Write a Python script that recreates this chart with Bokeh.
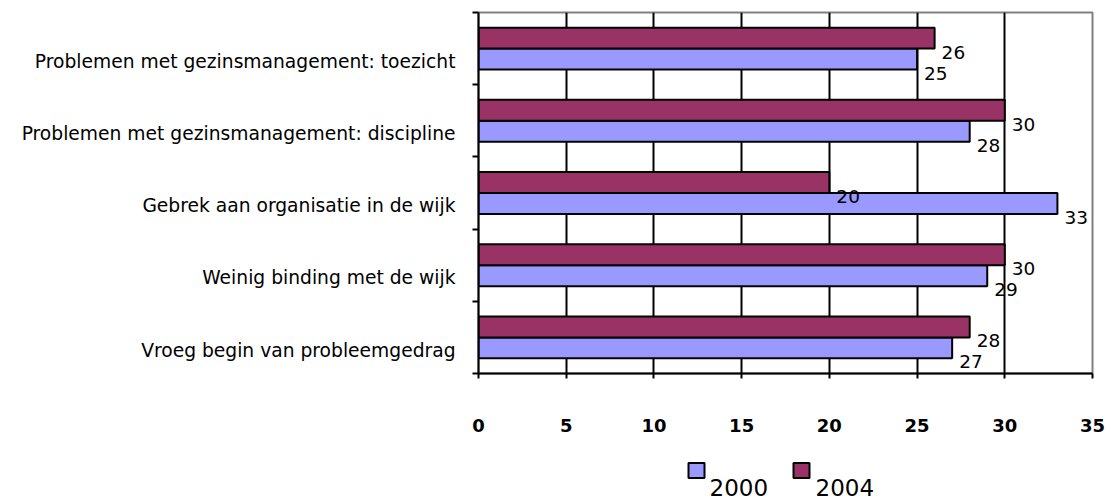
from bokeh.plotting import figure
from bokeh.models import Range1d, FixedTicker
from bokeh.layouts import column
from bokeh.embed import file_html
from bokeh.resources import INLINE
from bokeh.core.properties import value

# ---------------- data ----------------
categories = [
    "Vroeg begin van probleemgedrag",
    "Weinig binding met de wijk",
    "Gebrek aan organisatie in de wijk",
    "Problemen met gezinsmanagement: discipline",
    "Problemen met gezinsmanagement: toezicht",
]
series = ["2000", "2004"]
values_2000 = [27, 29, 33, 28, 25]
values_2004 = [28, 30, 20, 30, 26]
x_ticks = [0, 5, 10, 15, 20, 25, 30, 35]

# ---------------- style ----------------
C2000 = "#9999FF"
C2004 = "#993366"
FONT = "DejaVu Sans"
SHIFT = 0.175        # category label sits below group centre
BAR_H = 0.29
LEFT = 478
RIGHT = 14
W = 1106
TOP = 12
BOTTOM = 70
FRAME_H = 361
MAIN_H = TOP + FRAME_H + BOTTOM
LEG_H = 56

n = len(categories)
centers = [i + SHIFT for i in range(n)]
y2000 = [c - BAR_H / 2 for c in centers]
y2004 = [c + BAR_H / 2 for c in centers]

p = figure(width=W, height=MAIN_H,
           x_range=Range1d(0, 35), y_range=Range1d(SHIFT - 0.5, n - 0.5 + SHIFT),
           output_backend="svg", toolbar_location=None,
           min_border_left=LEFT, min_border_right=RIGHT,
           min_border_top=TOP, min_border_bottom=BOTTOM)
p.background_fill_color = "white"
p.border_fill_color = "white"
p.outline_line_color = "#808080"
p.outline_line_width = 2

# grid
p.ygrid.visible = False
p.xgrid.ticker = FixedTicker(ticks=[t for t in x_ticks if 0 < t < 35])
p.xgrid.grid_line_color = "black"
p.xgrid.grid_line_width = 2

# bars
p.hbar(y=y2000, left=0, right=values_2000, height=BAR_H,
       fill_color=C2000, line_color="black", line_width=2)
p.hbar(y=y2004, left=0, right=values_2004, height=BAR_H,
       fill_color=C2004, line_color="black", line_width=2)

# value labels
lab_kw = dict(x_offset=7, y_offset=14, text_align="left", text_baseline="middle",
              text_font=value(FONT), text_font_size="18.5px", text_color="black")
p.text(x=values_2000, y=y2000, text=[str(v) for v in values_2000], **lab_kw)
p.text(x=values_2004, y=y2004, text=[str(v) for v in values_2004], **lab_kw)

# x axis
xa = p.xaxis[0]
xa.ticker = FixedTicker(ticks=x_ticks)
xa.axis_line_color = "black"
xa.axis_line_width = 2
xa.major_tick_line_color = "black"
xa.major_tick_line_width = 2
xa.major_tick_out = 5
xa.major_tick_in = 0
xa.minor_tick_line_color = None
xa.major_label_standoff = 40
xa.major_label_text_font = FONT
xa.major_label_text_font_size = "18px"
xa.major_label_text_font_style = "bold"
xa.major_label_text_color = "black"

# y axis
ya = p.yaxis[0]
ya.ticker = FixedTicker(ticks=list(range(n)),
                        minor_ticks=[i + SHIFT - 0.5 for i in range(n + 1)])
ya.major_label_overrides = {i: categories[i] for i in range(n)}
ya.axis_line_color = "black"
ya.axis_line_width = 2
ya.major_tick_out = 0
ya.major_tick_in = 0
ya.major_tick_line_color = None
ya.minor_tick_out = 6
ya.minor_tick_in = 0
ya.minor_tick_line_color = "black"
ya.minor_tick_line_width = 2
ya.major_label_standoff = 17
ya.major_label_text_font = FONT
ya.major_label_text_font_size = "18.7px"
ya.major_label_text_color = "black"

# ---------------- legend (separate strip below, frame aligned with main) ----------------
leg = figure(width=W, height=LEG_H, x_range=Range1d(LEFT, W - RIGHT), y_range=Range1d(LEG_H, 0),
             x_axis_type=None, y_axis_type=None,
             output_backend="svg", toolbar_location=None,
             min_border_left=LEFT, min_border_right=RIGHT, min_border_top=0, min_border_bottom=0)
leg.outline_line_color = None
leg.grid.visible = False
leg.background_fill_color = "white"
leg.border_fill_color = "white"

sq_x = [696, 801]
sq_y = [27, 27]
txt_x = [709, 815]
txt_y = [43.5, 43.5]
leg.rect(x=sq_x, y=sq_y, width=16, height=15, fill_color=[C2000, C2004],
         line_color="black", line_width=2)
leg.text(x=txt_x, y=txt_y, text=series, text_align="left", text_baseline="middle",
         text_font=value(FONT), text_font_size="23px", text_color="black")

layout = column(p, leg, spacing=0)
open("out.html", "w").write(file_html(layout, INLINE))
